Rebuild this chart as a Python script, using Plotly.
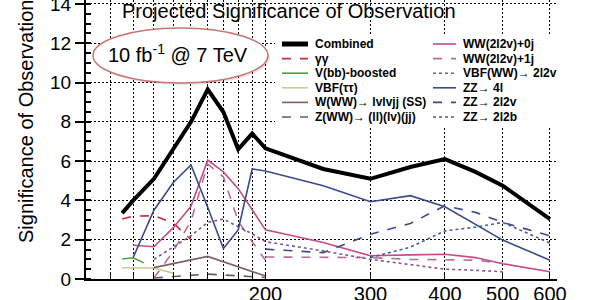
import plotly.graph_objects as go

# ---------------- data ----------------
mass_combined = [115, 120, 130, 140, 150, 160, 170, 180, 190, 200, 250, 300, 350, 400, 450, 500, 600]
sig_combined = [3.35, 4.0, 5.1, 6.6, 8.0, 9.65, 8.5, 6.6, 7.4, 6.65, 5.6, 5.1, 5.7, 6.1, 5.45, 4.75, 3.05]

mass_gg = [115, 120, 130, 140, 150]
sig_gg = [3.05, 3.2, 3.22, 2.85, 2.0]

mass_vbb = [115, 120, 125]
sig_vbb = [1.02, 1.08, 0.82]

mass_vbftt = [115, 120, 130, 140]
sig_vbftt = [0.57, 0.57, 0.56, 0.3]

mass_www = [130, 160, 200]
sig_www = [0.58, 1.15, 0.15]

mass_zww = [130, 160, 200]
sig_zww = [0.05, 0.25, 0.08]

mass_ww0j = [120, 130, 140, 150, 160, 170, 180, 190, 200, 250, 300, 350, 400, 450, 500, 600]
sig_ww0j = [1.72, 1.64, 2.6, 3.7, 6.05, 5.45, 4.6, 3.5, 2.5, 1.86, 1.18, 1.23, 1.26, 1.09, 0.78, 0.37]

mass_ww1j = [130, 140, 150, 160, 170, 180, 190, 200, 200, 200, 250, 300, 350, 400, 450, 500]
sig_ww1j = [0.05, 1.4, 2.95, 5.85, 5.2, 2.95, 1.9, 0.95, None, 1.12, 1.12, 1.09, 1.0, 0.96, 0.96, 0.8]

mass_vbfww = [130, 140, 150, 160, 170, 180, 190, 200, 250, 300, 350, 400, 450, 500]
sig_vbfww = [1.0, 1.6, 2.2, 2.88, 3.05, 2.66, 2.3, 1.9, 1.43, 1.0, 0.75, 0.5, 0.44, 0.37]

mass_zz4l = [120, 130, 140, 150, 160, 170, 180, 190, 200, 250, 300, 350, 400, 450, 500, 600]
sig_zz4l = [1.1, 3.5, 4.9, 5.8, 3.65, 1.55, 2.5, 5.6, 5.5, 4.75, 3.93, 4.24, 3.68, 2.79, 1.98, 0.96]

mass_zz2l2v = [200, 250, 300, 350, 400, 450, 500, 600]
sig_zz2l2v = [1.52, 1.34, 2.28, 2.83, 3.73, 3.39, 2.88, 2.2]

mass_zz2l2b = [300, 350, 400, 450, 500, 600]
sig_zz2l2b = [1.1, 1.62, 2.45, 2.64, 2.88, 1.83]

x_grid_vals = [110, 120, 130, 140, 150, 160, 170, 180, 190, 200, 300, 400, 500, 600]
x_grid_text = ["", "", "", "", "", "", "", "", "", "200", "300", "400", "500", "600"]

# (name, x, y, color, dash, width, legend column, legend row)
series = [
    ("Combined", mass_combined, sig_combined, "#000000", "solid", 4, 0, 0),
    ("γγ", mass_gg, sig_gg, "#cc2b3c", "dash", 1.6, 0, 1),
    ("V(bb)-boosted", mass_vbb, sig_vbb, "#46a546", "solid", 1.6, 0, 2),
    ("VBF(ττ)", mass_vbftt, sig_vbftt, "#c9cc98", "solid", 1.6, 0, 3),
    ("W(WW)→ lvlvjj (SS)", mass_www, sig_www, "#7a6262", "solid", 1.6, 0, 4),
    ("Z(WW)→ (ll)(lv)(jj)", mass_zww, sig_zww, "#5c5c78", "dash", 1.6, 0, 5),
    ("WW(2l2v)+0j", mass_ww0j, sig_ww0j, "#c44c88", "solid", 1.6, 1, 0),
    ("WW(2l2v)+1j", mass_ww1j, sig_ww1j, "#b86c98", "dash", 1.6, 1, 1),
    ("VBF(WW)→ 2l2v", mass_vbfww, sig_vbfww, "#7c5a90", "dot", 1.6, 1, 2),
    ("ZZ→ 4l", mass_zz4l, sig_zz4l, "#3a4a8c", "solid", 1.6, 1, 3),
    ("ZZ→ 2l2v", mass_zz2l2v, sig_zz2l2v, "#3a4a8c", "dash", 1.6, 1, 4),
    ("ZZ→ 2l2b", mass_zz2l2b, sig_zz2l2b, "#4a5a9c", "dot", 1.6, 1, 5),
]

W, H = 600, 300
ML, MR, MT, MB = 86, 43, 0, 21
PW, PH = W - ML - MR, H - MT - MB


def px(x):
    return (x - ML) / PW


def py(y):
    return (MT + PH - y) / PH


fig = go.Figure()
# draw thin series first, combined on top
for name, xs, ys, color, dash, width, col, row in series[1:] + series[:1]:
    fig.add_trace(go.Scatter(
        x=xs, y=ys, mode="lines", name=name, showlegend=False,
        line=dict(color=color, dash=dash, width=width),
        connectgaps=False,
    ))

shapes = []
annotations = []

# white areas that hide the grid (title / label region)
shapes.append(dict(type="rect", xref="paper", yref="paper", layer="between",
                   x0=px(86), x1=px(275), y0=py(82), y1=py(-5),
                   fillcolor="white", line=dict(width=0)))
shapes.append(dict(type="rect", xref="paper", yref="paper", layer="between",
                   x0=px(100), x1=px(466), y0=py(25), y1=py(-5),
                   fillcolor="white", line=dict(width=0)))

# luminosity ellipse
shapes.append(dict(type="circle", xref="paper", yref="paper", layer="above",
                   x0=px(95), x1=px(270), y0=py(85), y1=py(30),
                   fillcolor="rgba(0,0,0,0.10)", line=dict(width=0)))
shapes.append(dict(type="circle", xref="paper", yref="paper", layer="above",
                   x0=px(93), x1=px(268), y0=py(83), y1=py(28),
                   fillcolor="white", line=dict(color="#c87474", width=1.5)))
annotations.append(dict(text="10 fb<sup>-1</sup> @ 7 TeV", xref="paper", yref="paper",
                        x=px(178), y=py(53), showarrow=False, xanchor="center", yanchor="middle",
                        font=dict(size=20, color="black", family="Liberation Sans, Arial")))

# legend box
shapes.append(dict(type="rect", xref="paper", yref="paper", layer="above",
                   x0=px(275), x1=px(561), y0=py(126), y1=py(34),
                   fillcolor="white", line=dict(width=0)))
col_sample = [(282, 308), (433, 456)]
col_text = [313, 461]
for name, xs, ys, color, dash, width, col, row in series:
    yy = 44 + 14.6 * row
    x0, x1 = col_sample[col]
    shapes.append(dict(type="line", xref="paper", yref="paper", layer="above",
                       x0=px(x0), x1=px(x1), y0=py(yy), y1=py(yy),
                       line=dict(color=color, dash=dash, width=width + (1 if col == 0 and row == 0 else 0))))
    annotations.append(dict(text="<b>" + name + "</b>", xref="paper", yref="paper",
                            x=px(col_text[col]), y=py(yy), showarrow=False,
                            xanchor="left", yanchor="middle",
                            font=dict(size=12, color="black", family="Liberation Sans, Arial", weight="bold")))

# title and y-axis title
annotations.append(dict(text="Projected Significance of Observation", xref="paper", yref="paper",
                        x=px(289), y=py(11), showarrow=False, xanchor="center", yanchor="middle",
                        font=dict(size=20, color="black", family="Liberation Sans, Arial")))
annotations.append(dict(text="Significance of Observation", xref="paper", yref="paper",
                        x=px(26), y=py(122), showarrow=False, textangle=-90,
                        xanchor="center", yanchor="middle",
                        font=dict(size=20, color="black", family="Liberation Sans, Arial")))

grid_dash = "2px,2px"
fig.update_layout(
    width=W, height=H,
    margin=dict(l=ML, r=MR, t=MT, b=MB, autoexpand=False),
    paper_bgcolor="white", plot_bgcolor="white",
    font=dict(family="Liberation Sans, Arial", color="black", size=19),
    shapes=shapes, annotations=annotations,
    xaxis=dict(type="log", range=[2.0, 2.79], automargin=False,
               tickvals=x_grid_vals, ticktext=x_grid_text,
               ticks="inside", ticklen=5, tickwidth=1, tickcolor="black",
               showline=True, linecolor="black", linewidth=2, mirror=False,
               showgrid=True, gridcolor="black", gridwidth=1, griddash=grid_dash,
               zeroline=False, tickfont=dict(size=20), ticklabelstandoff=-4,
               ticklabeloverflow="allow"),
    yaxis=dict(range=[0, 14.2], tickvals=[0, 2, 4, 6, 8, 10, 12, 14], automargin=False,
               ticks="outside", ticklen=9, tickwidth=1.5, tickcolor="black",
               minor=dict(dtick=0.5, ticks="inside", ticklen=5, tickcolor="black", showgrid=False),
               showline=True, linecolor="black", linewidth=2,
               showgrid=True, gridcolor="black", gridwidth=1, griddash=grid_dash,
               zeroline=False, tickfont=dict(size=19), ticklabeloverflow="allow"),
    yaxis2=dict(range=[0, 14.2], overlaying="y", side="right", anchor="x", automargin=False,
                tickvals=[0, 2, 4, 6, 8, 10, 12, 14],
                ticks="inside", ticklen=10, tickwidth=1.5, tickcolor="black",
                minor=dict(dtick=0.5, ticks="inside", ticklen=5, tickcolor="black", showgrid=False),
                showticklabels=False, showgrid=False, zeroline=False,
                showline=True, linecolor="black", linewidth=2),
)

fig.write_html("out.html")
